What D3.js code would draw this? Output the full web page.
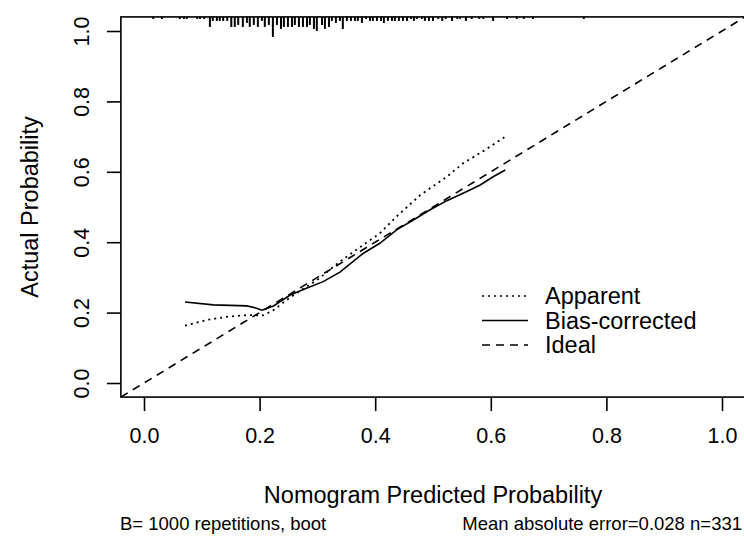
<!DOCTYPE html>
<html>
<head>
<meta charset="utf-8">
<script src="https://cdnjs.cloudflare.com/ajax/libs/d3/7.8.5/d3.min.js"></script>
<style>
    body { margin: 0; background: #fff; }
    svg text { font-family: "Liberation Sans", Arial, sans-serif; fill: #000; }
</style>
</head>
<body>
<div id="chart"></div>
<script>
const apparentX = [0.071, 0.108, 0.143, 0.178, 0.206, 0.224, 0.247, 0.270, 0.299, 0.339, 0.379, 0.408, 0.437, 0.478, 0.524, 0.552, 0.590, 0.625];
const apparentY = [0.163, 0.179, 0.188, 0.193, 0.192, 0.207, 0.236, 0.262, 0.292, 0.345, 0.392, 0.425, 0.473, 0.534, 0.586, 0.624, 0.662, 0.700];

const biasX = [0.071, 0.120, 0.178, 0.192, 0.204, 0.224, 0.253, 0.281, 0.310, 0.339, 0.379, 0.408, 0.437, 0.466, 0.495, 0.524, 0.552, 0.581, 0.604, 0.625];
const biasY = [0.230, 0.222, 0.219, 0.214, 0.207, 0.219, 0.250, 0.269, 0.288, 0.315, 0.368, 0.397, 0.435, 0.463, 0.492, 0.518, 0.539, 0.562, 0.586, 0.605];

// distribution of predictions (rug at top): position and relative frequency
const rugX = [0.016, 0.031, 0.062, 0.069, 0.074, 0.092, 0.097, 0.104, 0.114, 0.119, 0.126, 0.131, 0.137, 0.144,
    0.151, 0.157, 0.163, 0.171, 0.178, 0.183, 0.190, 0.197, 0.204, 0.209, 0.216, 0.223, 0.230, 0.237, 0.242,
    0.249, 0.256, 0.261, 0.268, 0.275, 0.282, 0.287, 0.294, 0.299, 0.308, 0.313, 0.320, 0.325, 0.332, 0.339,
    0.344, 0.351, 0.358, 0.365, 0.370, 0.377, 0.384, 0.391, 0.396, 0.403, 0.410, 0.415, 0.422, 0.429, 0.434,
    0.441, 0.448, 0.455, 0.462, 0.467, 0.472, 0.481, 0.486, 0.493, 0.500, 0.509, 0.516, 0.522, 0.533, 0.542,
    0.547, 0.557, 0.567, 0.580, 0.587, 0.604, 0.628, 0.645, 0.657, 0.673, 0.761];
const rugN = [1, 1, 1, 1, 1, 1, 1, 1, 5, 2, 2, 2, 2, 2,
    5, 5, 4, 5, 3, 5, 4, 5, 2, 5, 4, 10, 4, 6, 5,
    5, 5, 4, 5, 5, 5, 4, 6, 7, 4, 6, 5, 2, 3, 2,
    6, 2, 2, 2, 2, 3, 1, 2, 2, 2, 2, 3, 2, 2, 2,
    2, 2, 2, 1, 2, 1, 1, 2, 2, 2, 1, 2, 1, 2, 1,
    1, 2, 1, 1, 1, 2, 1, 1, 1, 1, 1];

const xTicks = [0, 0.2, 0.4, 0.6, 0.8, 1.0];
const yTicks = [0, 0.2, 0.4, 0.6, 0.8, 1.0];

const legendLabels = ["Apparent", "Bias-corrected", "Ideal"];
const legendDash = ["2,4", null, "8,6"];

const W = 744, H = 536;

const svg = d3.select("#chart").append("svg")
    .attr("width", W)
    .attr("height", H);

// scales (R style: 4% padding beyond 0..1)
const x = d3.scaleLinear().domain([0, 1]).range([144, 722]);
const y = d3.scaleLinear().domain([0, 1]).range([383, 31]);
const lo = -0.04, hi = 1.04;

svg.append("clipPath").attr("id", "plotclip")
    .append("rect")
    .attr("x", x(lo)).attr("y", y(hi))
    .attr("width", x(hi) - x(lo)).attr("height", y(lo) - y(hi));

const plot = svg.append("g").attr("clip-path", "url(#plotclip)");

// ideal line
plot.append("line")
    .attr("x1", x(lo)).attr("y1", y(lo))
    .attr("x2", x(hi)).attr("y2", y(hi))
    .attr("stroke", "#000")
    .attr("stroke-width", 1.6)
    .attr("stroke-dasharray", "8,6");

const line = d3.line()
    .x(d => x(d[0]))
    .y(d => y(d[1]));

// apparent
plot.append("path")
    .datum(d3.zip(apparentX, apparentY))
    .attr("d", line)
    .attr("fill", "none")
    .attr("stroke", "#000")
    .attr("stroke-width", 1.8)
    .attr("stroke-dasharray", "2,4");

// bias-corrected
plot.append("path")
    .datum(d3.zip(biasX, biasY))
    .attr("d", line)
    .attr("fill", "none")
    .attr("stroke", "#000")
    .attr("stroke-width", 1.6);

// rug
const rugLen = d3.scaleLinear().domain([0, d3.max(rugN)]).range([0, 20]);
plot.selectAll(".rug")
    .data(d3.zip(rugX, rugN))
    .join("line")
    .attr("class", "rug")
    .attr("x1", d => x(d[0])).attr("x2", d => x(d[0]))
    .attr("y1", y(hi))
    .attr("y2", d => y(hi) + rugLen(d[1]))
    .attr("stroke", "#000")
    .attr("stroke-width", 2);

// box
svg.append("rect")
    .attr("x", x(lo)).attr("y", y(hi))
    .attr("width", x(hi) - x(lo)).attr("height", y(lo) - y(hi))
    .attr("fill", "none")
    .attr("stroke", "#000")
    .attr("stroke-width", 1.6);

// axes
const xAxis = d3.axisBottom(x)
    .tickValues(xTicks)
    .tickFormat(d3.format(".1f"))
    .tickSize(14)
    .tickPadding(17);

const yAxis = d3.axisLeft(y)
    .tickValues(yTicks)
    .tickFormat(d3.format(".1f"))
    .tickSize(14);

const gx = svg.append("g")
    .attr("transform", "translate(0," + y(lo) + ")")
    .call(xAxis);
gx.select(".domain").remove();

const gy = svg.append("g")
    .attr("transform", "translate(" + x(lo) + ",0)")
    .call(yAxis);
gy.select(".domain").remove();

svg.selectAll(".tick line").attr("stroke", "#000").attr("stroke-width", 1.6);
gx.selectAll(".tick text")
    .style("font-size", "21.5px");
gy.selectAll(".tick text")
    .style("font-size", "21.5px")
    .attr("text-anchor", "middle")
    .attr("transform", "translate(-39,0) rotate(-90)")
    .attr("x", 0)
    .attr("dy", "0.35em");

// axis titles
svg.append("text")
    .attr("x", (x(lo) + x(hi)) / 2)
    .attr("y", 503)
    .attr("text-anchor", "middle")
    .style("font-size", "23.5px")
    .text("Nomogram Predicted Probability");

svg.append("text")
    .attr("transform", "translate(38," + ((y(lo) + y(hi)) / 2) + ") rotate(-90)")
    .attr("text-anchor", "middle")
    .style("font-size", "23.5px")
    .text("Actual Probability");

// footer
svg.append("text")
    .attr("x", 120)
    .attr("y", 530)
    .style("font-size", "18.5px")
    .text("B= 1000 repetitions, boot");

svg.append("text")
    .attr("x", 742)
    .attr("y", 530)
    .attr("text-anchor", "end")
    .style("font-size", "18.5px")
    .text("Mean absolute error=0.028 n=331");

// legend
const legend = svg.append("g").attr("transform", "translate(482,296)");
legendLabels.forEach((lab, i) => {
    const g = legend.append("g").attr("transform", "translate(0," + (i * 24.5) + ")");
    g.append("line")
        .attr("x1", 0).attr("x2", 46)
        .attr("y1", 0).attr("y2", 0)
        .attr("stroke", "#000")
        .attr("stroke-width", 1.6)
        .attr("stroke-dasharray", legendDash[i]);
    g.append("text")
        .attr("x", 63)
        .attr("dy", "0.35em")
        .style("font-size", "23.5px")
        .text(lab);
});
</script>
</body>
</html>
